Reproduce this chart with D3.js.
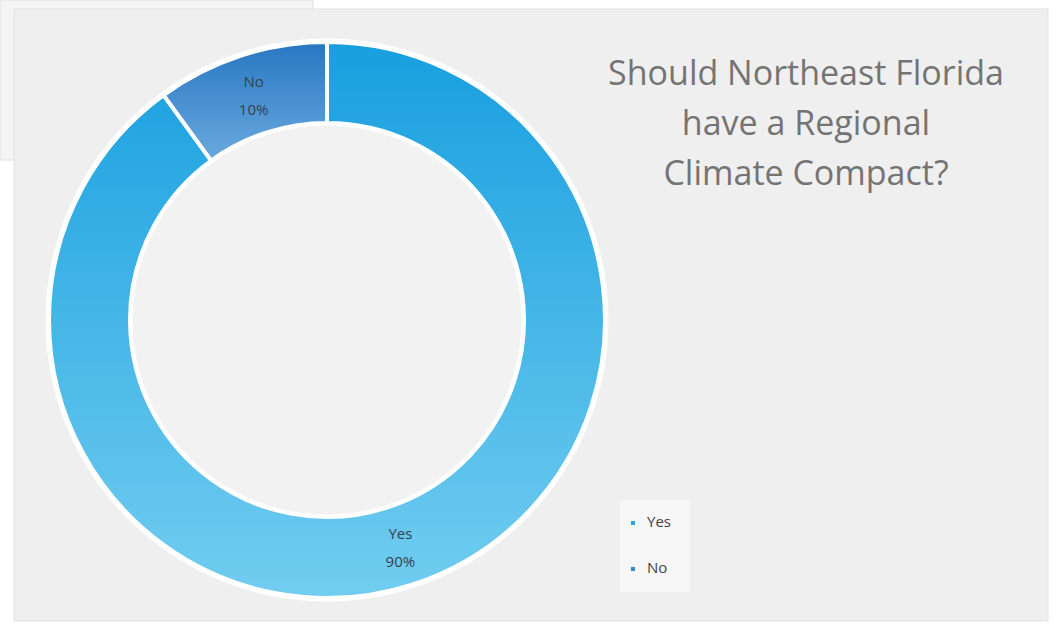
<!DOCTYPE html>
<html>
<head>
  <meta charset="UTF-8">
  <style>
    body { margin: 0; background: #ffffff; }
    svg { display: block; }
  </style>
</head>
<body>
  <svg id="chart"></svg>
  <script src="https://d3js.org/d3.v7.min.js"></script>
  <script>
    // chart data
    const categories = ["Yes", "No"];
    const shares = [90, 10];
    const titleLines = ["Should Northeast Florida", "have a Regional", "Climate Compact?"];

    let width = 1056, height = 626;

    let svg = d3.select("#chart")
      .attr("width", width)
      .attr("height", height);

    // backdrop panels
    svg.append("rect")
      .attr("x", 0).attr("y", 0).attr("width", 313).attr("height", 160)
      .attr("fill", "#f4f4f4").attr("stroke", "#dedede");
    svg.append("rect")
      .attr("x", 14).attr("y", 9).attr("width", 1034).attr("height", 612)
      .attr("fill", "#efefef").attr("stroke", "#e2e2e2");

    let cx = 327, cy = 320, outerR = 278, innerR = 197;

    // gradients live in the ring group's coordinates (centre = 0,0)
    let defs = svg.append("defs");
    let gradYes = defs.append("linearGradient").attr("id", "gYes")
      .attr("gradientUnits", "userSpaceOnUse")
      .attr("x1", 0).attr("y1", -outerR).attr("x2", 0).attr("y2", outerR);
    gradYes.append("stop").attr("offset", "0%").attr("stop-color", "#189fdf");
    gradYes.append("stop").attr("offset", "100%").attr("stop-color", "#72cdf0");

    let gradNo = defs.append("linearGradient").attr("id", "gNo")
      .attr("gradientUnits", "userSpaceOnUse")
      .attr("x1", 0).attr("y1", -outerR).attr("x2", 0).attr("y2", -160);
    gradNo.append("stop").attr("offset", "0%").attr("stop-color", "#2877c2");
    gradNo.append("stop").attr("offset", "100%").attr("stop-color", "#6aa9de");

    let fills = d3.scaleOrdinal()
      .domain(categories)
      .range(["url(#gYes)", "url(#gNo)"]);

    let pie = d3.pie().sort(null).value(d => d.value);
    let arcs = pie(categories.map((c, i) => ({ name: c, value: shares[i] })));

    let arc = d3.arc().innerRadius(innerR).outerRadius(outerR);

    let g = svg.append("g").attr("transform", "translate(" + cx + "," + cy + ")");

    // soft white halo round the ring
    g.append("circle").attr("r", outerR + 2).attr("fill", "none")
      .attr("stroke", "#ffffff").attr("stroke-width", 3);
    g.append("circle").attr("r", innerR - 1).attr("fill", "#f2f2f2")
      .attr("stroke", "#ffffff").attr("stroke-width", 3);

    g.selectAll("path.slice")
      .data(arcs)
      .enter()
      .append("path")
      .attr("class", "slice")
      .attr("d", arc)
      .attr("fill", d => fills(d.data.name))
      .attr("stroke", "#ffffff")
      .attr("stroke-width", 4);

    // data labels
    let labelArc = d3.arc().innerRadius((innerR + outerR) / 2).outerRadius((innerR + outerR) / 2);
    let labels = g.selectAll("text.lbl")
      .data(arcs)
      .enter()
      .append("text")
      .attr("class", "lbl")
      .attr("transform", d => {
        let c = labelArc.centroid(d);
        return "translate(" + c[0] + "," + c[1] + ")";
      })
      .attr("text-anchor", "middle")
      .style("font-family", "'Open Sans', sans-serif")
      .style("font-size", "15px")
      .style("fill", "#34414f");
    labels.append("tspan").attr("x", 0).attr("dy", "-0.45em").text(d => d.data.name);
    labels.append("tspan").attr("x", 0).attr("dy", "1.85em").text(d => d.data.value + "%");

    // title
    svg.append("text")
      .attr("text-anchor", "middle")
      .style("font-family", "'Open Sans', sans-serif")
      .style("font-size", "34px")
      .style("fill", "#747474")
      .selectAll("tspan")
      .data(titleLines)
      .enter()
      .append("tspan")
      .attr("x", 806)
      .attr("y", (d, i) => 85 + i * 50)
      .text(d => d);

    // legend
    let legend = svg.append("g").attr("transform", "translate(620,500)");
    legend.append("rect").attr("width", 70).attr("height", 92).attr("fill", "#f6f6f6");
    let items = legend.selectAll("g.item")
      .data(categories)
      .enter()
      .append("g")
      .attr("class", "item")
      .attr("transform", (d, i) => "translate(13," + (23 + i * 46) + ")");
    items.append("rect")
      .attr("x", -2).attr("y", -2).attr("width", 4).attr("height", 4)
      .attr("fill", d => d === "Yes" ? "#2aa6e0" : "#3a86cc");
    items.append("text")
      .attr("x", 14).attr("y", 0)
      .attr("dominant-baseline", "middle")
      .style("font-family", "'Open Sans', sans-serif")
      .style("font-size", "15px")
      .style("fill", "#444")
      .text(d => d);
  </script>
</body>
</html>
